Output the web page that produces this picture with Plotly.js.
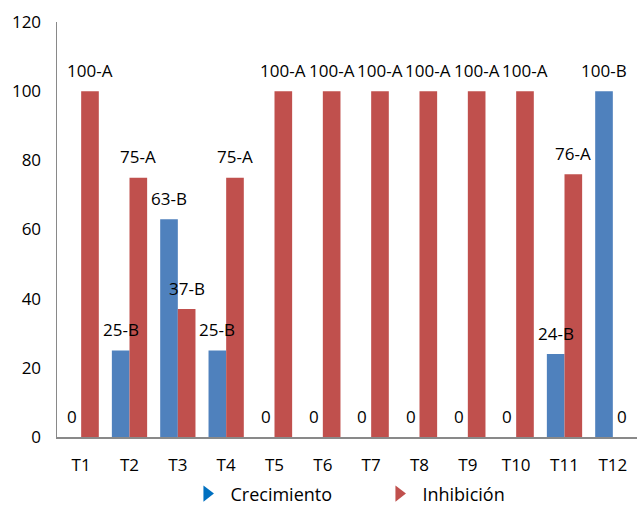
<!DOCTYPE html>
<html>
<head>
<meta charset="utf-8">
<script src="https://cdn.plot.ly/plotly-3.0.1.min.js"></script>
<style>html,body{margin:0;padding:0;background:#fff;}#chart{width:637px;height:506px;}</style>
</head>
<body>
<div id="chart"></div>
<script>
const categories = ["T1","T2","T3","T4","T5","T6","T7","T8","T9","T10","T11","T12"];
const crecimiento = [0,25,63,25,0,0,0,0,0,0,24,100];
const inhibicion = [100,75,37,75,100,100,100,100,100,100,76,0];
const crecimientoLabels = ["0","25-B","63-B","25-B","0","0","0","0","0","0","24-B","100-B"];
const inhibicionLabels = ["100-A","75-A","37-B","75-A","100-A","100-A","100-A","100-A","100-A","100-A","76-A","0"];
const yTicks = [0,20,40,60,80,100,120];

const FONT = "'Open Sans', 'Noto Sans', sans-serif";
const BLUE = "#4F81BD", RED = "#C0504D";
const OFFSET = 8.9;

const traces = [
  {type:"bar", name:"Crecimiento", x:categories, y:crecimiento, showlegend:false,
   marker:{color:BLUE, line:{width:0}}, hoverinfo:"skip"},
  {type:"bar", name:"Inhibición", x:categories, y:inhibicion, showlegend:false,
   marker:{color:RED, line:{width:0}}, hoverinfo:"skip"},
  {type:"scatter", mode:"markers", name:"Crecimiento", x:[null], y:[null],
   marker:{symbol:"triangle-right", color:"#0070C0", size:14}},
  {type:"scatter", mode:"markers", name:"Inhibición", x:[null], y:[null],
   marker:{symbol:"triangle-right", color:RED, size:14}}
];

const annotations = [];
categories.forEach((c,i)=>{
  annotations.push({x:c, y:crecimiento[i], xref:"x", yref:"y", text:crecimientoLabels[i],
    showarrow:false, xshift:-OFFSET, yshift:21, yanchor:"middle", font:{family:FONT,size:17,color:"#000"}});
  annotations.push({x:c, y:inhibicion[i], xref:"x", yref:"y", text:inhibicionLabels[i],
    showarrow:false, xshift:OFFSET, yshift:21, yanchor:"middle", font:{family:FONT,size:17,color:"#000"}});
});

const layout = {
  width:637, height:506,
  margin:{l:57, r:0, t:22, b:69, autoexpand:false},
  paper_bgcolor:"#fff", plot_bgcolor:"#fff",
  barmode:"group", bargap:0.27, bargroupgap:0,
  font:{family:FONT, size:17, color:"#000"},
  xaxis:{type:"category", showgrid:false, showline:true, linecolor:"#898989", linewidth:1.5,
         ticks:"", ticklabelstandoff:12, tickfont:{family:FONT,size:17,color:"#000"}, zeroline:false},
  yaxis:{range:[0,120], tickvals:yTicks, ticktext:yTicks.map(String), showgrid:false, showline:true,
         linecolor:"#898989", linewidth:1.5, ticks:"", ticklabelstandoff:11, zeroline:false,
         tickfont:{family:FONT,size:17,color:"#000"}},
  showlegend:true,
  legend:{orientation:"h", xref:"container", x:0.288, xanchor:"left",
          yref:"container", y:0.024, yanchor:"middle",
          font:{family:FONT,size:18,color:"#000"}, itemwidth:37, entrywidth:140, entrywidthmode:"pixels",
          bgcolor:"rgba(0,0,0,0)"},
  annotations:annotations
};

Plotly.newPlot("chart", traces, layout, {displayModeBar:false, staticPlot:true});
</script>
</body>
</html>
